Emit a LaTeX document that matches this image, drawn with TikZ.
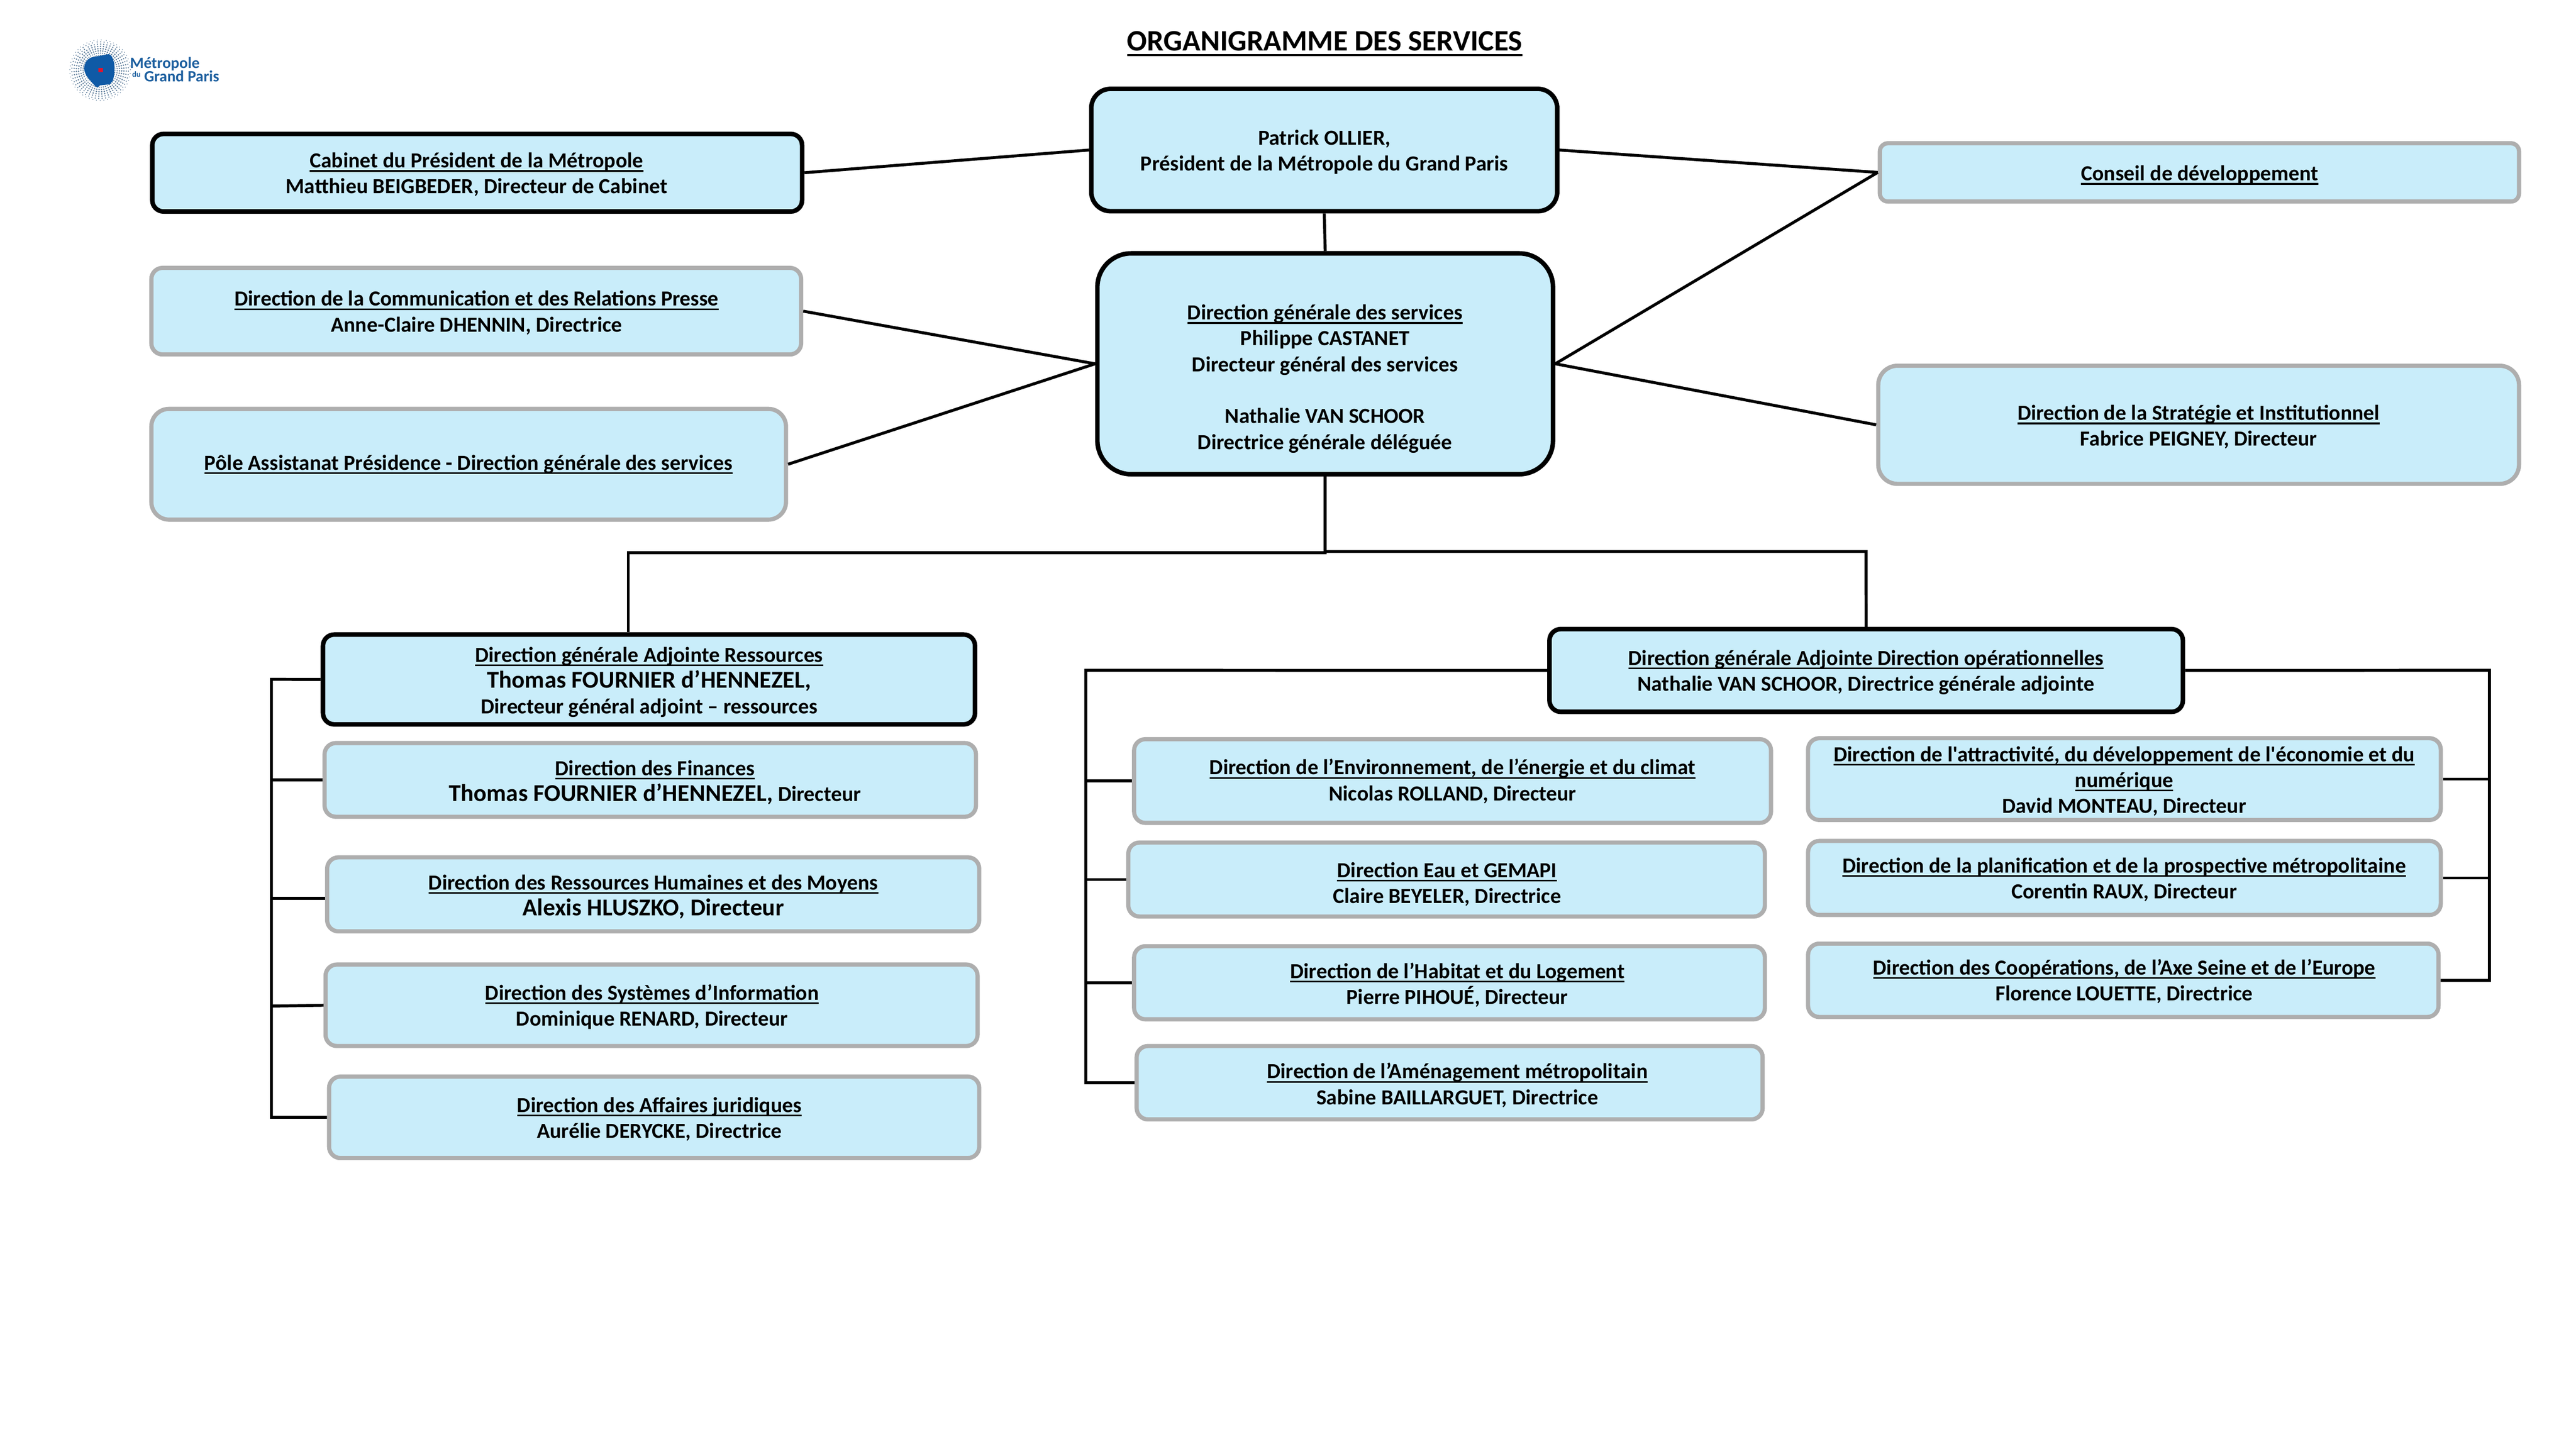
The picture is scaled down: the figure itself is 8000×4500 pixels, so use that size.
\documentclass[tikz,border=0pt]{standalone}
\usepackage{fontspec}
\setmainfont{Carlito}[Ligatures=TeXOff]
\definecolor{boxfill}{HTML}{C9EDFA}
\definecolor{boxgrey}{HTML}{AEAEAE}
\definecolor{logoblue}{HTML}{0F5AA6}
\definecolor{logotext}{HTML}{1B5E9E}
\definecolor{logodot}{HTML}{5A7A98}
\definecolor{logored}{HTML}{E2132E}
% underlined text with a rule at a fixed distance under the baseline
\newcommand{\ulx}[1]{\setbox0\hbox{#1}\rlap{\vrule width\wd0 height -2.2pt depth 3.6pt}\box0 }
\newcommand{\ulxt}[1]{\setbox0\hbox{#1}\rlap{\vrule width\wd0 height -3.0pt depth 4.8pt}\box0 }
\newcommand{\bigname}{\fontsize{21.34}{22.9}\selectfont\bfseries}
% centred lines with a fixed line distance; the baseline is that of the first line
\newcommand{\lns}[1]{\vtop{\baselineskip=22.9pt\lineskip=0pt\lineskiplimit=-1000pt\halign{\hfil##\hfil\cr#1\crcr}}}
% \bx[style]{name}{x1}{y1}{x2}{y2}{text centre x}{first baseline y}{lines}
\newcommand{\bx}[8][]{%
  \pgfmathsetmacro\bxcx{(#3+#5)/2}%
  \pgfmathsetmacro\bxcy{(#4+#6)/2}%
  \pgfmathsetmacro\bxB{2*(#8+3-\bxcy)}%
  \pgfmathsetlengthmacro\bxH{max(\bxB,0)*0.01cm}%
  \pgfmathsetlengthmacro\bxD{max(-\bxB,0)*0.01cm}%
  \pgfmathsetlengthmacro\bxW{(#5-#3)*0.01cm}%
  \pgfmathsetlengthmacro\bxV{(#6-#4)*0.01cm}%
  \pgfmathsetlengthmacro\bxK{2*(#7-\bxcx)*0.01cm}%
  \node[orgbox,#1,minimum width=\bxW,minimum height=\bxV,text height=\bxH,text depth=\bxD] (#2) at (\bxcx,\bxcy) {\kern\bxK\lns{\bxtext}};%
}
\newcommand{\bxset}[1]{\def\bxtext{#1}}
\tikzset{
  orgbox/.style={fill=boxfill,inner sep=0pt,font=\fontsize{18.97}{22.9}\selectfont\bfseries,text=black},
  blackbox/.style={draw=black,line width=4pt},
  greybox/.style={draw=boxgrey,line width=3.7pt},
  link/.style={draw=black,line width=2.6pt},
  rad/.style={rounded corners=#1*0.01cm},
}
\begin{document}
\begin{tikzpicture}[x=0.01cm,y=-0.01cm]
\useasboundingbox (0,0) rectangle (8000,4500);

% logo
\foreach \r/\d in {46/1.7,53/2.1,60/2.4,67/2.5,74/2.4,81/2.2,88/1.9,94/1.4}{
  \foreach \a in {0,7,...,353}{
    \fill[logodot] ({311+\r*cos(\a+\r*3)},{218+\r*sin(\a+\r*3)}) circle[radius=\d*0.01cm];
  }
}
\fill[logoblue] (261,213) .. controls (262,195) and (272,182) .. (285,178) -- (338,168) .. controls (348,170) and (351,185) .. (355,197) -- (355,230) -- (351,250) -- (341,262) -- (311,265) -- (303,272) -- (295,267) -- (280,250) .. controls (270,238) and (263,228) .. (261,213) -- cycle;
\fill[logored] (306,212) rectangle (320,224);
\node[anchor=base west,inner sep=0pt,text=logotext,font=\fontsize{13.9}{16}\selectfont\bfseries] (logoa) at (403,212) {Métropole};
\node[anchor=base west,inner sep=0pt,text=logotext,font=\fontsize{7}{8}\selectfont\bfseries] (logob) at (410,240) {du};
\node[anchor=base west,inner sep=0pt,text=logotext,font=\fontsize{13.9}{16}\selectfont\bfseries] (logoc) at (447,253) {Grand Paris};

% title
\node[anchor=base,inner sep=0pt,font=\fontsize{26.2}{32}\selectfont\bfseries] (title) at (4114,157) {\ulxt{ORGANIGRAMME DES SERVICES}};

% top part
\bxset{Patrick OLLIER,\cr Président de la Métropole du Grand Paris}
\bx[blackbox,rad=60]{pres}{3389}{276}{4836}{656}{4113}{447}
\bxset{\ulx{Direction générale des services}\cr Philippe CASTANET\cr Directeur général des services\cr\cr Nathalie VAN SCHOOR\cr Directrice générale déléguée}
\bx[blackbox,rad=105]{dgs}{3408}{787}{4823}{1473}{4115}{990}
\bxset{\ulx{Cabinet du Président de la Métropole}\cr Matthieu BEIGBEDER, Directeur de Cabinet}
\bx[blackbox,rad=35]{cab}{473}{416}{2491}{657}{1480}{518}
\bxset{\ulx{Direction de la Communication et des Relations Presse}\cr Anne-Claire DHENNIN, Directrice}
\bx[greybox,rad=35]{com}{470}{832}{2488}{1101}{1480}{947}
\bxset{\ulx{Pôle Assistanat Présidence - Direction générale des services}}
\bx[greybox,rad=55]{pole}{470}{1270}{2441}{1614}{1455}{1457}
\bxset{\ulx{Conseil de développement}}
\bx[greybox,rad=25]{cons}{5838}{445}{7823}{626}{6831}{558}
\bxset{\ulx{Direction de la Stratégie et Institutionnel}\cr Fabrice PEIGNEY, Directeur}
\bx[greybox,rad=60]{strat}{5833}{1136}{7823}{1503}{6828}{1302}

% left column
\bxset{\ulx{Direction générale Adjointe Ressources}\cr {\bigname Thomas FOURNIER d’HENNEZEL,}\cr Directeur général adjoint – ressources}
\bx[blackbox,rad=35]{res}{1003}{1971}{3028}{2250}{2016}{2053}
\bxset{\ulx{Direction des Finances}\cr {\bigname Thomas FOURNIER d’HENNEZEL,} Directeur}
\bx[greybox,rad=35]{fin}{1008}{2308}{3031}{2537}{2034}{2405}
\bxset{\ulx{Direction des Ressources Humaines et des Moyens}\cr {\bigname Alexis HLUSZKO, Directeur}}
\bx[greybox,rad=35]{rh}{1016}{2663}{3041}{2893}{2029}{2761}
\bxset{\ulx{Direction des Systèmes d’Information}\cr Dominique RENARD, Directeur}
\bx[greybox,rad=35]{si}{1011}{2996}{3036}{3249}{2025}{3103}
\bxset{\ulx{Direction des Affaires juridiques}\cr Aurélie DERYCKE, Directrice}
\bx[greybox,rad=35]{aj}{1022}{3344}{3041}{3597}{2048}{3452}

% operational box and middle column
\bxset{\ulx{Direction générale Adjointe Direction opérationnelles}\cr Nathalie VAN SCHOOR, Directrice générale adjointe}
\bx[blackbox,rad=35]{ops}{4812}{1954}{6779}{2211}{5795}{2063}
\bxset{\ulx{Direction de l’Environnement, de l’énergie et du climat}\cr Nicolas ROLLAND, Directeur}
\bx[greybox,rad=35]{env}{3522}{2296}{5500}{2556}{4511}{2403}
\bxset{\ulx{Direction Eau et GEMAPI}\cr Claire BEYELER, Directrice}
\bx[greybox,rad=35]{eau}{3504}{2617}{5481}{2847}{4494}{2722}
\bxset{\ulx{Direction de l’Habitat et du Logement}\cr Pierre PIHOUÉ, Directeur}
\bx[greybox,rad=35]{hab}{3522}{2939}{5481}{3166}{4526}{3036}
\bxset{\ulx{Direction de l’Aménagement métropolitain}\cr Sabine BAILLARGUET, Directrice}
\bx[greybox,rad=35]{ame}{3530}{3249}{5474}{3477}{4526}{3347}

% right column
\bxset{\ulx{Direction de l'attractivité, du développement de l'économie et du}\cr \ulx{numérique}\cr David MONTEAU, Directeur}
\bx[greybox,rad=35]{att}{5615}{2293}{7580}{2547}{6597}{2362}
\bxset{\ulx{Direction de la planification et de la prospective métropolitaine}\cr Corentin RAUX, Directeur}
\bx[greybox,rad=35]{pla}{5615}{2612}{7580}{2842}{6597}{2708}
\bxset{\ulx{Direction des Coopérations, de l’Axe Seine et de l’Europe}\cr Florence LOUETTE, Directrice}
\bx[greybox,rad=35]{coo}{5615}{2931}{7573}{3159}{6597}{3025}

% connectors
\coordinate (jl) at (1951,1717);
\coordinate (jc) at (4115,1713);
\coordinate (jr) at (5795,1713);
\coordinate (busl) at (843,2110);
\coordinate (lrh) at (843,2790);
\coordinate (lsi) at (843,3125);
\coordinate (busm) at (3372,2082);
\coordinate (busr) at (7731,2082);

\draw[link] (cab.east) -- (pres.west);
\draw[link] (pres.east) -- (cons.west);
\draw[link] (pres.south) -- (dgs.north);
\draw[link] (com.east) -- (dgs.west);
\draw[link] (pole.east) -- (dgs.west);
\draw[link] (dgs.east) -- (cons.west);
\draw[link] (dgs.east) -- (strat.west);
\draw[link] (dgs.south) |- (jl) -- (jl |- res.north);
\draw[link] (jc) -- (jr) -- (ops.north);

\draw[link] (res.west) -- (busl) |- (aj.west);
\draw[link] (busl |- fin.west) -- (fin.west);
\draw[link] (lrh) -- (lrh -| rh.west);
\draw[link] (lsi) -- (si.west);

\draw[link] (ops.west) -- (busm) |- (ame.west);
\draw[link] (busm |- env.west) -- (env.west);
\draw[link] (busm |- eau.west) -- (eau.west);
\draw[link] (busm |- hab.west) -- (hab.west);

\draw[link] (ops.east) -- (busr) |- (coo.east);
\draw[link] (busr |- att.east) -- (att.east);
\draw[link] (busr |- pla.east) -- (pla.east);
\end{tikzpicture}
\end{document}
